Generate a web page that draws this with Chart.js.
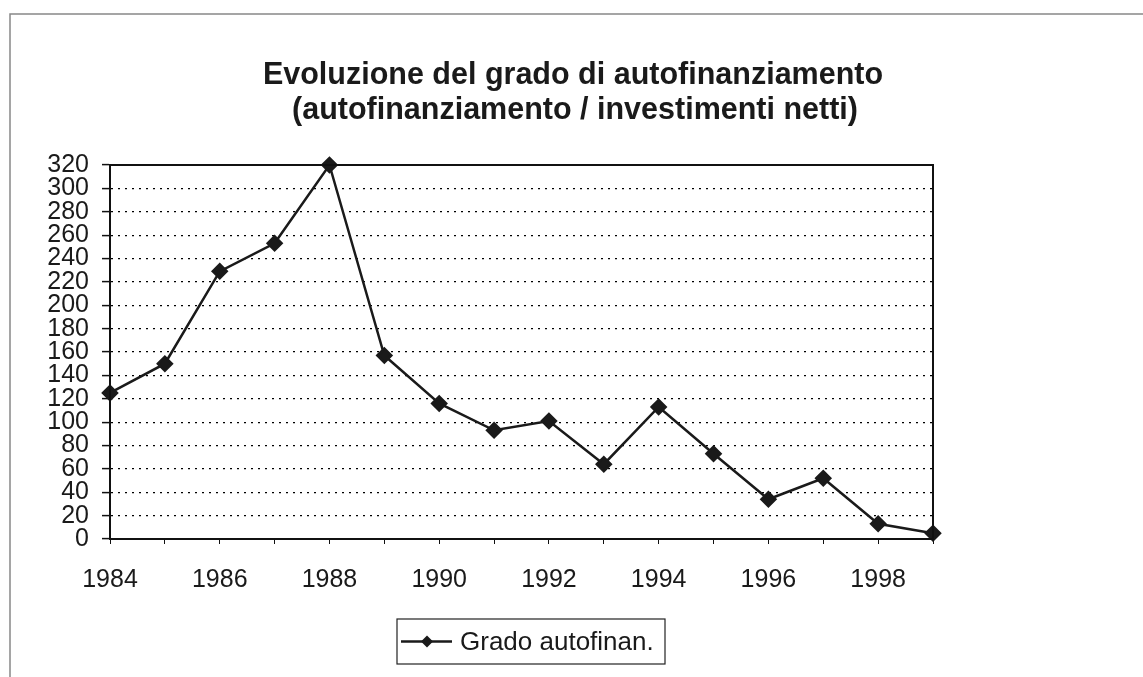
<!DOCTYPE html>
<html>
<head>
<meta charset="utf-8">
<script src="https://cdn.jsdelivr.net/npm/chart.js@4/dist/chart.umd.min.js"></script>
<style>
  html, body { margin: 0; padding: 0; background: #fff; }
  #wrap { width: 1143px; height: 677px; }
</style>
</head>
<body>
<div id="wrap"><canvas id="chart" width="1143" height="677"></canvas></div>
<script>
const years = ["1984", "1985", "1986", "1987", "1988", "1989", "1990", "1991",
               "1992", "1993", "1994", "1995", "1996", "1997", "1998", "1999"];
const grado = [125, 150, 229, 253, 320, 157, 116, 93, 101, 64, 113, 73, 34, 52, 13, 5];
const titleLines = ["Evoluzione del grado di autofinanziamento",
                    "(autofinanziamento / investimenti netti)"];
const seriesName = "Grado autofinan.";

const FONT = "'Liberation Sans', Arial, sans-serif";

// frame, title, plot border and legend are drawn by hand
const decor = {
    id: "decor",
    afterDraw(chart) {
        const ctx = chart.ctx;
        const a = chart.chartArea;
        ctx.save();

        // outer frame (only top and left show in the picture)
        ctx.strokeStyle = "#888";
        ctx.lineWidth = 1.5;
        ctx.beginPath();
        ctx.moveTo(10, 677);
        ctx.lineTo(10, 14);
        ctx.lineTo(1143, 14);
        ctx.stroke();

        // plot border
        ctx.strokeStyle = "#111";
        ctx.lineWidth = 2;
        ctx.strokeRect(a.left, a.top, a.right - a.left, a.bottom - a.top);

        // title
        ctx.fillStyle = "#1a1a1a";
        ctx.font = "bold 30.5px " + FONT;
        ctx.textAlign = "center";
        ctx.textBaseline = "alphabetic";
        ctx.fillText(titleLines[0], 573, 84);
        ctx.fillText(titleLines[1], 575, 119);

        // legend
        const lx = 397, ly = 619, lw = 268, lh = 45;
        ctx.strokeStyle = "#222";
        ctx.lineWidth = 1.2;
        ctx.strokeRect(lx, ly, lw, lh);
        const my = ly + lh / 2;
        const ds = chart.data.datasets[0];
        ctx.strokeStyle = ds.borderColor;
        ctx.lineWidth = ds.borderWidth;
        ctx.beginPath();
        ctx.moveTo(lx + 4, my);
        ctx.lineTo(lx + 55, my);
        ctx.stroke();
        ctx.fillStyle = ds.pointBackgroundColor;
        ctx.beginPath();
        ctx.moveTo(lx + 30, my - 6);
        ctx.lineTo(lx + 36, my);
        ctx.lineTo(lx + 30, my + 6);
        ctx.lineTo(lx + 24, my);
        ctx.closePath();
        ctx.fill();
        ctx.fillStyle = "#1a1a1a";
        ctx.font = "26px " + FONT;
        ctx.textAlign = "left";
        ctx.textBaseline = "middle";
        ctx.fillText(ds.label, lx + 63, my + 1);

        ctx.restore();
    }
};

new Chart(document.getElementById("chart").getContext("2d"), {
    type: "line",
    data: {
        labels: years,
        datasets: [{
            label: seriesName,
            data: grado,
            borderColor: "#1a1a1a",
            borderWidth: 2.5,
            pointStyle: "rectRot",
            pointRadius: 7,
            pointBackgroundColor: "#1a1a1a",
            pointBorderColor: "#1a1a1a",
            tension: 0,
            clip: false
        }]
    },
    options: {
        responsive: false,
        animation: false,
        layout: { padding: { top: 165, left: 0, right: 210, bottom: 0 } },
        plugins: {
            legend: { display: false },
            title: { display: false },
            tooltip: { enabled: false }
        },
        scales: {
            x: {
                offset: false,
                afterFit: s => { s.height = 138; },
                border: { display: true, color: "#111", width: 2 },
                grid: {
                    drawOnChartArea: false,
                    drawTicks: true,
                    tickLength: 5,
                    tickColor: "#111"
                },
                ticks: {
                    autoSkip: false,
                    maxRotation: 0,
                    padding: 21,
                    color: "#1a1a1a",
                    font: { family: FONT, size: 25 },
                    callback: function (v, i) { return i % 2 === 0 ? this.getLabelForValue(v) : ""; }
                }
            },
            y: {
                min: 0,
                max: 320,
                afterFit: s => { s.width = 110; },
                border: { display: true, color: "#111", width: 2, dash: [2, 5] },
                grid: {
                    color: "#000",
                    lineWidth: 1.2,
                    tickLength: 8,
                    tickColor: "#111",
                    tickBorderDash: [],
                    tickWidth: 1.5
                },
                ticks: {
                    stepSize: 20,
                    autoSkip: false,
                    padding: 13,
                    color: "#1a1a1a",
                    font: { family: FONT, size: 25, lineHeight: 0.9 }
                }
            }
        }
    },
    plugins: [decor]
});
</script>
</body>
</html>
